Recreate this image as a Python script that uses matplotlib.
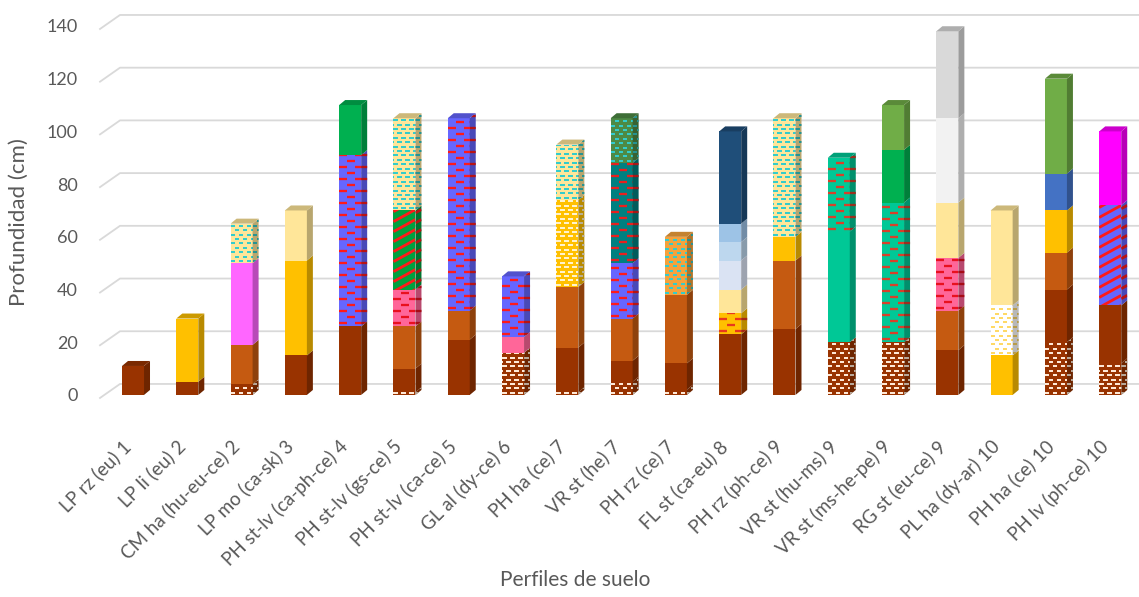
import matplotlib.pyplot as plt
from matplotlib.patches import Polygon
from matplotlib.collections import LineCollection
from matplotlib import colors as mcolors
from matplotlib.transforms import ScaledTranslation

plt.rcParams['font.family'] = ['Lato', 'DejaVu Sans']

perfiles = ['LP rz (eu) 1', 'LP li (eu) 2', 'CM ha (hu-eu-ce) 2', 'LP mo (ca-sk) 3',
            'PH st-lv (ca-ph-ce) 4', 'PH st-lv (gs-ce) 5', 'PH st-lv (ca-ce) 5',
            'GL al (dy-ce) 6', 'PH ha (ce) 7', 'VR st (he) 7', 'PH rz (ce) 7',
            'FL st (ca-eu) 8', 'PH rz (ph-ce) 9', 'VR st (hu-ms) 9', 'VR st (ms-he-pe) 9',
            'RG st (eu-ce) 9', 'PL ha (dy-ar) 10', 'PH ha (ce) 10', 'PH lv (ph-ce) 10']

# profundidad inferior de cada horizonte (cm), de arriba hacia abajo
limites = [
    [11],
    [5, 29],
    [4, 19, 50, 65],
    [15, 51, 70],
    [26, 91, 110],
    [1, 10, 26, 40, 70, 105],
    [21, 32, 105],
    [16, 22, 45],
    [1, 18, 41, 74, 95],
    [5, 13, 29, 50, 88, 105],
    [2, 12, 38, 60],
    [23, 31, 40, 51, 58, 65, 100],
    [25, 51, 60, 105],
    [20, 62, 90],
    [20, 73, 93, 110],
    [17, 32, 52, 73, 105, 138],
    [15, 34, 70],
    [20, 40, 54, 70, 84, 120],
    [12, 34, 72, 100],
]

# simbología de cada horizonte
horizontes = [
    ['pardo'],
    ['pardo', 'amarillo'],
    ['pardo_p', 'naranja', 'rosa', 'crema_p'],
    ['pardo', 'amarillo', 'crema'],
    ['pardo', 'azul_r', 'verde'],
    ['pardo_p', 'pardo', 'naranja', 'rosa_r', 'verde_l', 'crema_p'],
    ['pardo', 'naranja', 'azul_r'],
    ['pardo_p', 'rosa2', 'azul_r'],
    ['pardo_p', 'pardo', 'naranja', 'amarillo_p', 'crema_p'],
    ['pardo_p', 'pardo', 'naranja', 'azul_r', 'teal_r', 'oliva_p'],
    ['pardo_p', 'pardo', 'naranja', 'naranja_p'],
    ['pardo', 'amarillo_r', 'crema', 'celeste3', 'celeste2', 'celeste1', 'marino'],
    ['pardo', 'naranja', 'amarillo', 'crema_p'],
    ['pardo_p', 'turq', 'turq_r'],
    ['pardo_p', 'turq_r', 'verde', 'oliva'],
    ['pardo', 'naranja', 'rosa_r', 'crema', 'gris_cl', 'gris'],
    ['amarillo', 'blanco_p', 'crema'],
    ['pardo_p', 'pardo', 'naranja', 'amarillo', 'azul', 'oliva'],
    ['pardo_p', 'pardo', 'azul_l', 'magenta'],
]

# clave: (relleno, trama, color de trama)
ESTILOS = {
    'pardo': ('#993300', None, None),
    'pardo_p': ('#993300', 'densa', '#FFE9D6'),
    'naranja': ('#C55A11', None, None),
    'amarillo': ('#FFC000', None, None),
    'amarillo_p': ('#FFC000', 'densa', '#FFF2CC'),
    'amarillo_r': ('#FFC000', 'rala', '#E8381E'),
    'crema': ('#FFE699', None, None),
    'crema_p': ('#FFE699', 'densa', '#33CCCC'),
    'blanco_p': ('#FFFFFF', 'densa', '#FFD966'),
    'rosa': ('#FF66FF', None, None),
    'rosa2': ('#FF6699', None, None),
    'rosa_r': ('#FF6699', 'rala', '#E8101E'),
    'azul_r': ('#6666FF', 'rala', '#FF1A1A'),
    'azul_l': ('#6666FF', 'lineas', '#FF1A1A'),
    'verde': ('#00B050', None, None),
    'verde_l': ('#00A040', 'lineas', '#FF1A1A'),
    'oliva': ('#70AD47', None, None),
    'oliva_p': ('#4E8A45', 'densa', '#33CCCC'),
    'teal_r': ('#008080', 'rala', '#E8201E'),
    'naranja_p': ('#F5A23C', 'densa', '#33CCCC'),
    'turq': ('#00C896', None, None),
    'turq_r': ('#00C896', 'rala', '#D8402A'),
    'azul': ('#4472C4', None, None),
    'marino': ('#1F4E79', None, None),
    'celeste1': ('#9DC3E6', None, None),
    'celeste2': ('#BDD7EE', None, None),
    'celeste3': ('#DAE3F3', None, None),
    'gris': ('#D9D9D9', None, None),
    'gris_cl': ('#F2F2F2', None, None),
    'magenta': ('#FF00FF', None, None),
}

W, H = 1139, 597
fig = plt.figure(figsize=(W / 100, H / 100), dpi=100)
ax = fig.add_axes([100 / W, 0.334, 1039 / W, 0.6534])
ax.set_xlim(-0.608, 18.53)
ax.set_ylim(-1, 147)
for s in ax.spines.values():
    s.set_visible(False)

# pixeles por unidad de datos
pos = ax.get_position()
XU = pos.width * W / (18.53 + 0.608)
YU = pos.height * H / 148.0


def px(dxp, dyp):
    return dxp / XU, dyp / YU


def oscurecer(c, f):
    r, g, b = mcolors.to_rgb(c)
    return (r * f, g * f, b * f)


def trama(poly, tipo, color, z):
    xs = [p[0] * XU for p in poly]
    ys = [p[1] * YU for p in poly]
    x0, x1, y0, y1 = min(xs), max(xs), min(ys), max(ys)
    segs = []
    if tipo in ('densa', 'rala'):
        if tipo == 'densa':
            sep, largo, periodo, lw = 4.4, 4.5, 8.0, 2.0
        else:
            sep, largo, periodo, lw = 6.0, 8.0, 16.0, 2.3
        k = 0
        y = y0 + sep / 2
        while y < y1:
            xi = x0 - periodo + (periodo / 2 if k % 2 else 0)
            while xi < x1:
                segs.append([(xi / XU, y / YU), ((xi + largo) / XU, y / YU)])
                xi += periodo
            y += sep
            k += 1
    else:
        pend, periodo, lw = 0.55, 10.0, 2.8
        c = y0 - pend * (x1 - x0) - periodo
        while c < y1 + periodo:
            segs.append([(x0 / XU, c / YU), (x1 / XU, (c + pend * (x1 - x0)) / YU)])
            c += periodo
    return LineCollection(segs, colors=[color], linewidths=lw * 0.72,
                          capstyle='butt', zorder=z)


def cara(poly, clave, f, z, con_trama=True):
    fondo, tipo, tinta = ESTILOS[clave]
    p = Polygon(poly, closed=True, facecolor=oscurecer(fondo, f), edgecolor='none',
                lw=0, zorder=z, clip_on=False)
    ax.add_patch(p)
    if tipo and con_trama:
        lc = trama(poly, tipo, oscurecer(tinta, f), z + 0.1)
        ax.add_collection(lc)
        lc.set_clip_path(p)


# paredes con líneas de referencia
fx, fy = px(0, -3)
bx, by = px(20, 11)
for v in range(0, 141, 20):
    ax.plot([-0.608, -0.608 + bx, 18.53], [v + fy, v + by, v + by],
            color='#D9D9D9', lw=1.3, zorder=0, clip_on=False)

hw, _ = px(11, 0)
dx, dy = px(6, 5)
for i, (lims, hz) in enumerate(zip(limites, horizontes)):
    base = 0
    for techo, clave in zip(lims, hz):
        frente = [(i - hw, base), (i + hw, base), (i + hw, techo), (i - hw, techo)]
        lado = [(i + hw, base), (i + hw + dx, base + dy),
                (i + hw + dx, techo + dy), (i + hw, techo)]
        cara(frente, clave, 1.0, 2)
        cara(lado, clave, 0.72, 2)
        base = techo
    tapa = [(i - hw, base), (i + hw, base), (i + hw + dx, base + dy), (i - hw + dx, base + dy)]
    cara(tapa, hz[-1], 0.8, 2, con_trama=False)

ax.set_yticks(range(0, 141, 20))
ax.set_xticks(range(len(perfiles)))
ax.set_xticklabels(perfiles, rotation=45, ha='right', va='center', rotation_mode='anchor')
ax.tick_params(axis='y', length=0, pad=16, labelsize=13, labelcolor='#595959')
ax.tick_params(axis='x', length=0, pad=33, labelsize=13.5, labelcolor='#595959')
desplazar = ScaledTranslation(-5 / 100, 0, fig.dpi_scale_trans)
for lab in ax.get_xticklabels():
    lab.set_transform(lab.get_transform() + desplazar)

fig.text(19 / W, 1 - 222 / H, 'Profundidad (cm)', rotation=90, ha='center', va='center',
         fontsize=16, color='#595959')
fig.text(575 / W, 1 - 580 / H, 'Perfiles de suelo', ha='center', va='center',
         fontsize=15, color='#595959')

fig.savefig('out.png', dpi=100)
